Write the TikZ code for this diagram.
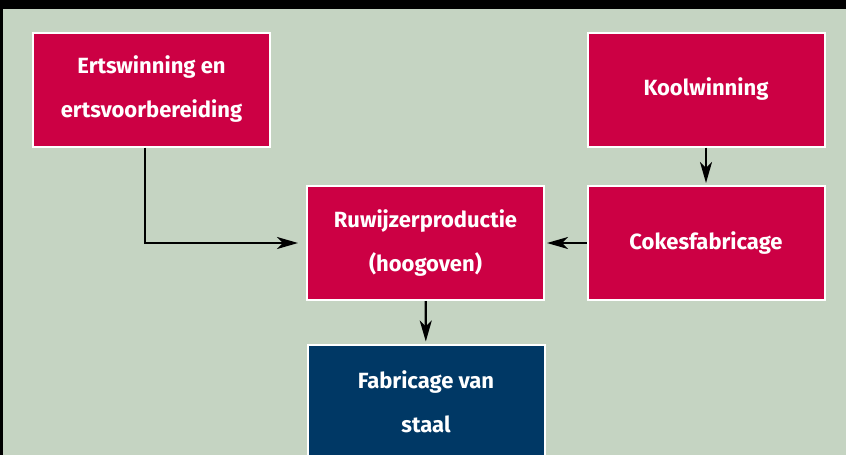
\documentclass[tikz,border=0pt]{standalone}
\usepackage{fontspec}
\setmainfont{Fira Sans}
\usetikzlibrary{arrows.meta}
\definecolor{bg}{RGB}{197,212,194}
\definecolor{boxred}{RGB}{204,0,68}
\definecolor{boxblue}{RGB}{0,56,101}
\begin{document}
\begin{tikzpicture}[x=1pt,y=-1pt,
  box/.style={draw=white, line width=2pt, fill=boxred, minimum width=237pt, minimum height=114pt,
    inner sep=0pt, text=white, font=\fontsize{22}{44}\selectfont\bfseries, align=center},
  arr/.style={line width=2.2pt, -{Stealth[length=21pt,width=12pt,inset=6pt]}, shorten >=2pt}]
\useasboundingbox (0,0) rectangle (846,455);
\clip (0,0) rectangle (846,455);
\fill[black] (0,0) rectangle (846,455);
\fill[bg] (3,9) rectangle (846,455);
\node[box] (erts) at (151.5,89.5) {Ertswinning en\\ertsvoorbereiding};
\node[box] (kool) at (706,89.5) {Koolwinning};
\node[box] (ruw) at (425.5,243) {Ruwijzerproductie\\(hoogoven)};
\node[box] (cokes) at (706,243) {Cokesfabricage};
\node[box, fill=boxblue] (fab) at (426,401.5) {Fabricage van\\staal};
\draw[arr, shorten >=8pt] ([xshift=-6.5pt]erts.south) |- (ruw.west);
\draw[arr] (kool) -- (cokes);
\draw[arr] (cokes) -- (ruw);
\draw[arr] (ruw) -- (fab);
\end{tikzpicture}
\end{document}
